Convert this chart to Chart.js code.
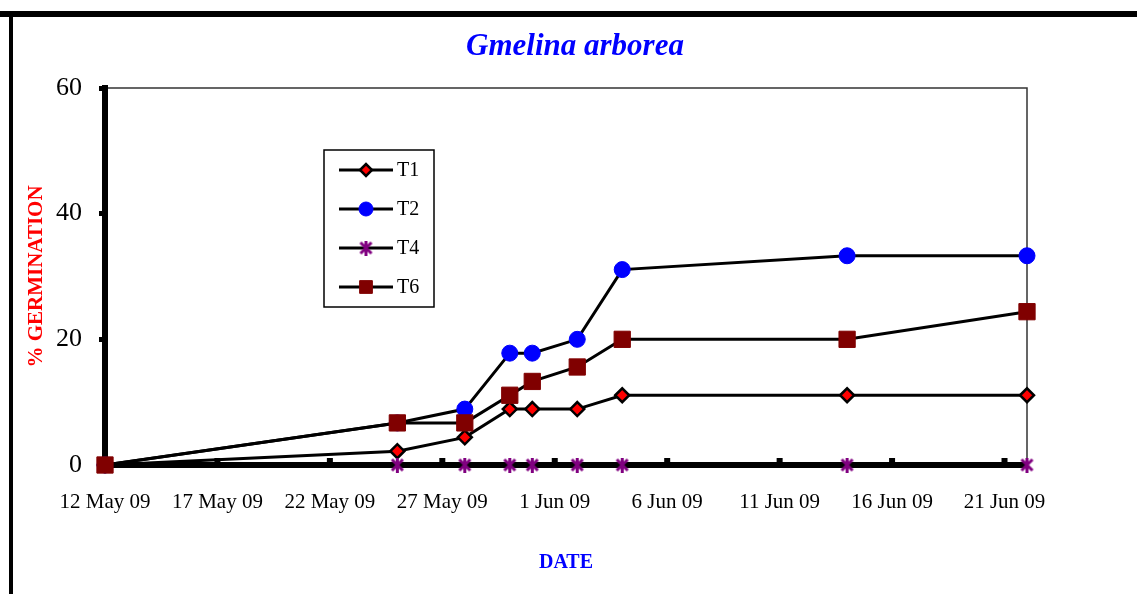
<!DOCTYPE html>
<html>
<head>
<meta charset="utf-8">
<script src="https://cdn.jsdelivr.net/npm/chart.js@4.4.0/dist/chart.umd.min.js"></script>
<style>
  body { margin: 0; background: #fff; }
  #wrap { width: 1137px; height: 594px; position: relative; }
</style>
</head>
<body>
<div id="wrap"><canvas id="germChart" width="1137" height="594"></canvas></div>
<script>
var chartTitle = 'Gmelina arborea';
var dates = ['12 May 09', '25 May 09', '28 May 09', '30 May 09', '31 May 09', '2 Jun 09', '4 Jun 09', '14 Jun 09', '22 Jun 09'];
var xTickLabels = ['12 May 09', '17 May 09', '22 May 09', '27 May 09', '1 Jun 09', '6 Jun 09', '11 Jun 09', '16 Jun 09', '21 Jun 09'];
var yTicks = [0, 20, 40, 60];
var t1 = [0, 2.2, 4.4, 8.9, 8.9, 8.9, 11.1, 11.1, 11.1];
var t2 = [0, 6.7, 8.9, 17.8, 17.8, 20.0, 31.1, 33.3, 33.3];
var t4 = [0, 0, 0, 0, 0, 0, 0, 0, 0];
var t6 = [0, 6.7, 6.7, 11.1, 13.3, 15.6, 20.0, 20.0, 24.4];

var months = { May: 4, Jun: 5 };
var startDay = dayNumber(dates[0]);

function dayNumber(s) {
    var p = s.split(' ');
    return Date.UTC(2000 + parseInt(p[2]), months[p[1]], parseInt(p[0])) / 86400000;
}

function toPoints(values) {
    return values.map(function (v, i) {
        return { x: dayNumber(dates[i]) - startDay, y: v };
    });
}

// excel style star marker: an X with a vertical bar
function makeStar(size, color) {
    var c = document.createElement('canvas');
    c.width = size; c.height = size;
    var g = c.getContext('2d');
    g.strokeStyle = color;
    g.lineWidth = 3;
    g.lineCap = 'butt';
    var m = 2;
    g.beginPath();
    g.moveTo(m, m); g.lineTo(size - m, size - m);
    g.moveTo(size - m, m); g.lineTo(m, size - m);
    g.moveTo(size / 2, 0); g.lineTo(size / 2, size);
    g.stroke();
    return c;
}
var starMarker = makeStar(15, '#800080');

var serif = '"Liberation Serif", "Times New Roman", serif';

var frameAndLegend = {
    id: 'frameAndLegend',
    beforeDraw: function (chart) {
        var ctx = chart.ctx;
        var a = chart.chartArea;
        ctx.save();
        ctx.fillStyle = '#fff';
        ctx.fillRect(0, 0, chart.width, chart.height);
        // outer frame
        ctx.fillStyle = '#000';
        ctx.fillRect(0, 11, chart.width, 6);
        ctx.fillRect(9, 11, 4, chart.height);
        // plot frame top + right
        ctx.strokeStyle = '#333';
        ctx.lineWidth = 1.5;
        ctx.beginPath();
        ctx.moveTo(a.left, a.top);
        ctx.lineTo(a.right, a.top);
        ctx.lineTo(a.right, a.bottom);
        ctx.stroke();
        // title
        ctx.fillStyle = '#0000ff';
        ctx.font = 'italic bold 31px ' + serif;
        ctx.textAlign = 'center';
        ctx.textBaseline = 'middle';
        ctx.fillText(chartTitle, 575, 47);
        ctx.restore();
    },
    afterDraw: function (chart) {
        var ctx = chart.ctx;
        var xs = chart.scales.x;
        var a = chart.chartArea;
        ctx.save();
        // x tick marks pointing up
        ctx.fillStyle = '#000';
        xs.ticks.forEach(function (t, i) {
            if (i === 0) return;
            var px = xs.getPixelForValue(t.value);
            ctx.fillRect(px - 3, a.bottom - 7, 6, 7);
        });
        // legend box
        ctx.strokeStyle = '#000';
        ctx.lineWidth = 1.5;
        ctx.strokeRect(324, 150, 110, 157);
        var rows = [170, 209, 248, 287];
        chart.data.datasets.forEach(function (ds, i) {
            var y = rows[i];
            ctx.strokeStyle = '#000';
            ctx.lineWidth = 3;
            ctx.beginPath();
            ctx.moveTo(339, y);
            ctx.lineTo(393, y);
            ctx.stroke();
            ctx.fillStyle = ds.pointBackgroundColor;
            ctx.strokeStyle = ds.pointBorderColor;
            ctx.lineWidth = ds.pointBorderWidth;
            var r = ds.pointStyle === 'rect' ? 9 : (ds.pointStyle === 'circle' ? 7 : 6);
            Chart.helpers.drawPoint(ctx, { pointStyle: ds.pointStyle, radius: r, rotation: 0, borderWidth: ds.pointBorderWidth }, 366, y);
            ctx.fillStyle = '#000';
            ctx.font = '20px ' + serif;
            ctx.textAlign = 'left';
            ctx.textBaseline = 'middle';
            ctx.fillText(ds.label, 397, y + 1);
        });
        ctx.restore();
    }
};

var germData = {
    datasets: [
        {
            label: 'T1',
            data: toPoints(t1),
            borderColor: '#000',
            borderWidth: 3,
            pointStyle: 'rectRot',
            pointRadius: 7,
            pointBackgroundColor: '#ff0000',
            pointBorderColor: '#000',
            pointBorderWidth: 2.5,
            order: 4
        }, {
            label: 'T2',
            data: toPoints(t2),
            borderColor: '#000',
            borderWidth: 3,
            pointStyle: 'circle',
            pointRadius: 8,
            pointBackgroundColor: '#0000ff',
            pointBorderColor: '#0000ff',
            pointBorderWidth: 1,
            order: 3
        }, {
            label: 'T4',
            data: toPoints(t4),
            borderColor: '#000',
            borderWidth: 3,
            pointStyle: starMarker,
            pointRadius: 7,
            pointBackgroundColor: '#800080',
            pointBorderColor: '#800080',
            pointBorderWidth: 1,
            order: 2
        }, {
            label: 'T6',
            data: toPoints(t6),
            borderColor: '#000',
            borderWidth: 3,
            pointStyle: 'rect',
            pointRadius: 11.5,
            pointBackgroundColor: '#800000',
            pointBorderColor: '#800000',
            pointBorderWidth: 1,
            order: 1
        }
    ]
};

var chart = new Chart(document.getElementById('germChart'), {
    type: 'line',
    data: germData,
    options: {
        responsive: false,
        animation: false,
        layout: { padding: { top: 88, right: 110, left: 0, bottom: 0 } },
        elements: { line: { tension: 0, fill: false } },
        datasets: { line: { clip: false } },
        plugins: {
            legend: { display: false },
            tooltip: { enabled: false },
            title: { display: false }
        },
        scales: {
            x: {
                type: 'linear',
                min: 0,
                max: dayNumber(dates[dates.length - 1]) - startDay,
                afterFit: function (s) { s.height = 129; },
                border: { display: true, width: 6, color: '#000' },
                grid: { display: true, drawOnChartArea: false, drawTicks: false },
                ticks: {
                    stepSize: 5,
                    includeBounds: false,
                    autoSkip: false,
                    maxRotation: 0,
                    padding: 25,
                    color: '#000',
                    font: { family: serif, size: 21 },
                    callback: function (v, i) { return xTickLabels[i]; }
                },
                title: {
                    display: true,
                    text: 'DATE',
                    color: '#0000ff',
                    font: { family: serif, size: 20, weight: 'bold' },
                    padding: { top: 0, bottom: 19 }
                }
            },
            y: {
                min: yTicks[0],
                max: yTicks[yTicks.length - 1],
                afterFit: function (s) { s.width = 105; },
                afterBuildTicks: function (s) { s.ticks = yTicks.map(function (v) { return { value: v }; }); },
                border: { display: true, width: 6, color: '#000' },
                grid: { display: true, drawOnChartArea: false, drawTicks: true, tickLength: 6, tickWidth: 5, tickColor: '#000' },
                ticks: {
                    padding: 17,
                    color: '#000',
                    font: { family: serif, size: 26 }
                },
                title: {
                    display: true,
                    text: '% GERMINATION',
                    color: '#ff0000',
                    font: { family: serif, size: 21, weight: 'bold' },
                    padding: { top: 24, bottom: 0 }
                }
            }
        }
    },
    plugins: [frameAndLegend]
});
</script>
</body>
</html>
